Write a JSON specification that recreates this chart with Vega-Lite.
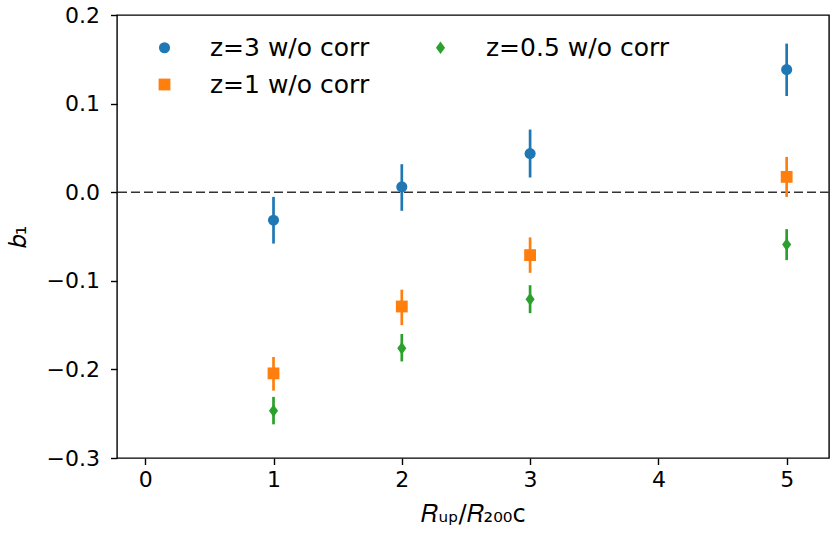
{
  "$schema": "https://vega.github.io/schema/vega-lite/v6.json",
  "width": 712,
  "height": 443,
  "autosize": {"type": "none"},
  "padding": {"left": 117, "top": 15, "right": 2, "bottom": 75},
  "background": "white",
  "config": {
    "font": "DejaVu Sans",
    "view": {"stroke": "black", "strokeWidth": 1.4},
    "axis": {
      "grid": false,
      "domain": false,
      "labelFont": "DejaVu Sans",
      "labelFontSize": 22,
      "labelColor": "black",
      "tickColor": "black",
      "tickSize": 6.5,
      "tickWidth": 1.4,
      "labelPadding": 5,
      "titleFont": "DejaVu Sans",
      "titleFontSize": 24,
      "titleFontWeight": "normal",
      "titleColor": "black"
    }
  },
  "datasets": {
    "pts": [
      {"series": "z=3 w/o corr", "x": 1, "y": -0.0316, "lo": -0.058, "hi": -0.0053},
      {"series": "z=3 w/o corr", "x": 2, "y": 0.006, "lo": -0.021, "hi": 0.0316},
      {"series": "z=3 w/o corr", "x": 3, "y": 0.0436, "lo": 0.0166, "hi": 0.0707},
      {"series": "z=3 w/o corr", "x": 5, "y": 0.1384, "lo": 0.1086, "hi": 0.1677},
      {"series": "z=1 w/o corr", "x": 1, "y": -0.2045, "lo": -0.224, "hi": -0.186},
      {"series": "z=1 w/o corr", "x": 2, "y": -0.129, "lo": -0.150, "hi": -0.110},
      {"series": "z=1 w/o corr", "x": 3, "y": -0.071, "lo": -0.091, "hi": -0.051},
      {"series": "z=1 w/o corr", "x": 5, "y": 0.0173, "lo": -0.0053, "hi": 0.0398},
      {"series": "z=0.5 w/o corr", "x": 1, "y": -0.2466, "lo": -0.262, "hi": -0.231},
      {"series": "z=0.5 w/o corr", "x": 2, "y": -0.176, "lo": -0.191, "hi": -0.160},
      {"series": "z=0.5 w/o corr", "x": 3, "y": -0.1207, "lo": -0.1365, "hi": -0.105},
      {"series": "z=0.5 w/o corr", "x": 5, "y": -0.059, "lo": -0.0767, "hi": -0.0417}
    ]
  },
  "layer": [
    {
      "data": {"values": [{"y0": 0}]},
      "mark": {"type": "rule", "color": "#333333", "strokeWidth": 1.6, "strokeDash": [9, 4]},
      "encoding": {
        "y": {"field": "y0", "type": "quantitative", "scale": {"domain": [-0.3, 0.2], "nice": false, "zero": false}}
      }
    },
    {
      "data": {"name": "pts"},
      "transform": [{"filter": "datum.series == 'z=3 w/o corr'"}],
      "mark": {"type": "rule", "strokeWidth": 2.7, "color": "#1f77b4"},
      "encoding": {
        "x": {"field": "x", "type": "quantitative"},
        "y": {"field": "lo", "type": "quantitative"},
        "y2": {"field": "hi"}
      }
    },
    {
      "data": {"name": "pts"},
      "transform": [{"filter": "datum.series == 'z=1 w/o corr'"}],
      "mark": {"type": "rule", "strokeWidth": 2.7, "color": "#ff7f0e"},
      "encoding": {
        "x": {"field": "x", "type": "quantitative"},
        "y": {"field": "lo", "type": "quantitative"},
        "y2": {"field": "hi"}
      }
    },
    {
      "data": {"name": "pts"},
      "transform": [{"filter": "datum.series == 'z=0.5 w/o corr'"}],
      "mark": {"type": "rule", "strokeWidth": 2.7, "color": "#2ca02c"},
      "encoding": {
        "x": {"field": "x", "type": "quantitative"},
        "y": {"field": "lo", "type": "quantitative"},
        "y2": {"field": "hi"}
      }
    },
    {
      "data": {"name": "pts"},
      "mark": {"type": "point", "filled": true, "opacity": 1, "strokeWidth": 0},
      "encoding": {
        "x": {
          "field": "x", "type": "quantitative",
          "scale": {"domain": [-0.22, 5.33], "nice": false, "zero": false},
          "axis": {"values": [0, 1, 2, 3, 4, 5], "format": "d", "title": "𝑅ᵤₚ/𝑅₂₀₀c", "titlePadding": 12}
        },
        "y": {
          "field": "y", "type": "quantitative",
          "axis": {"values": [-0.3, -0.2, -0.1, 0, 0.1, 0.2], "format": ".1f", "title": "𝑏₁", "titlePadding": 16, "labelPadding": 11}
        },
        "color": {
          "field": "series", "type": "nominal",
          "scale": {"domain": ["z=3 w/o corr", "z=1 w/o corr", "z=0.5 w/o corr"], "range": ["#1f77b4", "#ff7f0e", "#2ca02c"]},
          "legend": {
            "title": null,
            "orient": "none",
            "legendX": 35,
            "legendY": 20,
            "columns": 2,
            "padding": 0,
            "labelFontSize": 25,
            "labelFont": "DejaVu Sans",
            "labelColor": "black",
            "labelLimit": 400,
            "labelOffset": 33,
            "rowPadding": 11,
            "columnPadding": 58
          }
        },
        "shape": {
          "field": "series", "type": "nominal",
          "scale": {"domain": ["z=3 w/o corr", "z=1 w/o corr", "z=0.5 w/o corr"], "range": ["circle", "square", "M0,-1L0.73,0L0,1L-0.73,0Z"]}
        },
        "size": {
          "field": "series", "type": "nominal",
          "scale": {"domain": ["z=3 w/o corr", "z=1 w/o corr", "z=0.5 w/o corr"], "range": [123, 156, 225]}
        }
      }
    }
  ]
}
